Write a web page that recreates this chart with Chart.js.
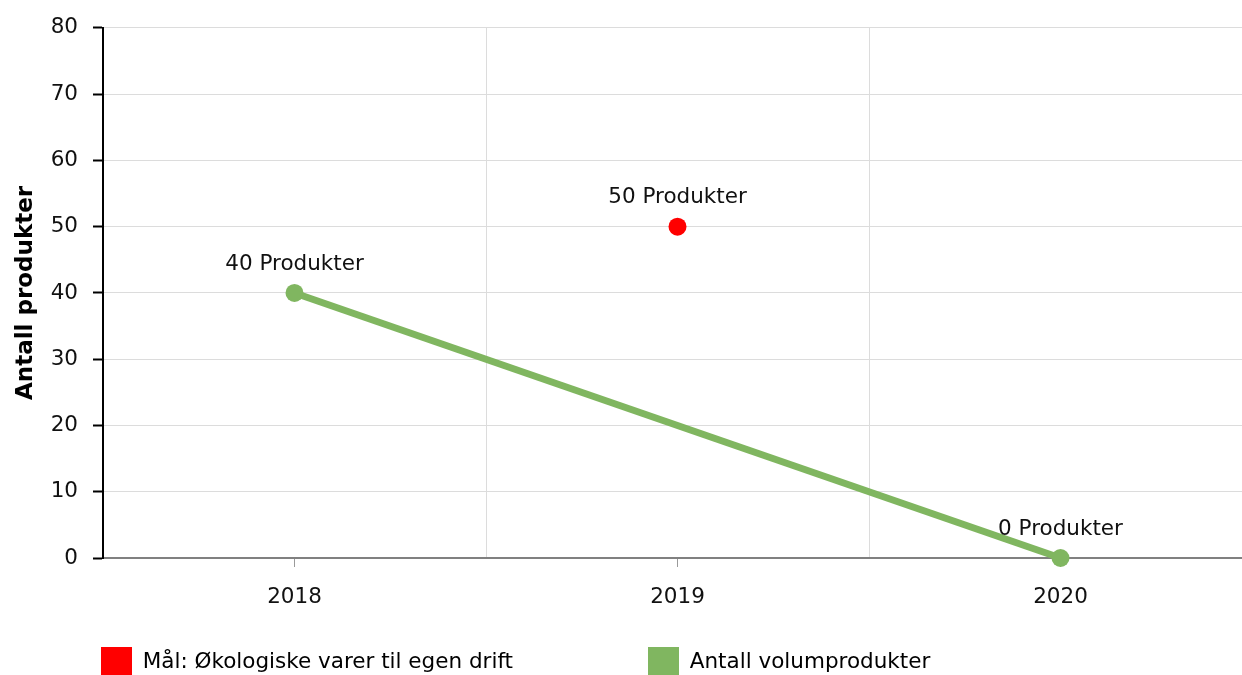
<!DOCTYPE html>
<html>
<head>
<meta charset="utf-8">
<script src="https://cdn.jsdelivr.net/npm/chart.js@4.4.1/dist/chart.umd.min.js"></script>
<style>
  html, body { margin: 0; padding: 0; overflow: hidden; background: #fff; }
  #c { display: block; }
</style>
</head>
<body>
<canvas id="c" width="1252" height="675"></canvas>
<script>
const categories = ['2018', '2019', '2020'];
const goalName = 'Mål: Økologiske varer til egen drift';
const volumeName = 'Antall volumprodukter';
const goalValues = [null, 50, null];
const volumeValues = [40, null, 0];
const yMin = 0, yMax = 80, yStep = 10;
const yTitle = 'Antall produkter';
const labelSuffix = ' Produkter';

const FONT = 'DejaVu Sans';
const FS = 21.5;
const GREEN = '#80b660';
const RED = '#ff0000';
const LEGEND_PAD = 135;

const dataLabels = {
  id: 'dataLabels',
  afterDatasetsDraw(chart) {
    const ctx = chart.ctx;
    ctx.save();
    ctx.font = FS + 'px "' + FONT + '"';
    ctx.fillStyle = '#111';
    ctx.textAlign = 'center';
    ctx.textBaseline = 'middle';
    chart.data.datasets.forEach((ds, i) => {
      const meta = chart.getDatasetMeta(i);
      meta.data.forEach((el, j) => {
        const v = ds.data[j];
        if (v === null || v === undefined) return;
        ctx.fillText(v + labelSuffix, el.x, el.y - 29);
      });
    });
    ctx.restore();
  }
};

const legendPlace = {
  id: 'legendPlace',
  afterLayout(chart) {
    const lg = chart.legend;
    if (!lg) return;
    lg.left = 101 - LEGEND_PAD;
    lg.top = 647 - LEGEND_PAD;
    lg.right = chart.width;
  }
};

new Chart(document.getElementById('c'), {
  type: 'line',
  data: {
    labels: categories,
    datasets: [
      {
        label: goalName,
        data: goalValues,
        showLine: false,
        backgroundColor: RED,
        borderColor: RED,
        pointBackgroundColor: RED,
        pointBorderColor: RED,
        pointRadius: 9,
        pointBorderWidth: 0,
        clip: false
      },
      {
        label: volumeName,
        data: volumeValues,
        spanGaps: true,
        borderColor: GREEN,
        backgroundColor: GREEN,
        borderWidth: 7,
        pointBackgroundColor: GREEN,
        pointBorderColor: GREEN,
        pointRadius: 9,
        pointBorderWidth: 0,
        tension: 0,
        clip: false
      }
    ]
  },
  options: {
    responsive: false,
    animation: false,
    layout: { autoPadding: false, padding: { top: 24, left: 0, right: 0, bottom: 0 } },
    plugins: {
      tooltip: { enabled: false },
      legend: {
        position: 'bottom',
        align: 'start',
        maxHeight: 50,
        labels: {
          font: { family: FONT, size: FS },
          color: '#111',
          boxWidth: 31,
          boxHeight: 31,
          padding: LEGEND_PAD,
          generateLabels(chart) {
            return chart.data.datasets.map((ds, i) => ({
              text: ds.label,
              fillStyle: ds.backgroundColor,
              strokeStyle: ds.backgroundColor,
              lineWidth: 0,
              hidden: false,
              datasetIndex: i
            }));
          }
        }
      }
    },
    scales: {
      x2: {
        type: 'category',
        position: 'bottom',
        offset: true,
        weight: 0,
        grid: { offset: false, drawOnChartArea: false, drawTicks: true, tickLength: 9, tickColor: '#9a9a9a', tickWidth: 1 },
        border: { display: true, color: '#808080', width: 2 },
        ticks: { display: false },
        afterFit(s) { s.height = 9; }
      },
      x: {
        type: 'category',
        position: 'bottom',
        offset: true,
        weight: 1,
        grid: { offset: true, drawTicks: false, color: '#dcdcdc', lineWidth: 1 },
        border: { display: false },
        ticks: { font: { family: FONT, size: FS }, color: '#111', padding: 18 },
        afterFit(s) { s.height = 58; }
      },
      y: {
        min: yMin,
        max: yMax,
        position: 'left',
        grid: { color: '#dcdcdc', lineWidth: 1, tickLength: 10, tickColor: '#000', tickWidth: 2 },
        border: { display: true, color: '#000', width: 2 },
        ticks: { stepSize: yStep, font: { family: FONT, size: FS }, color: '#111', padding: 15 },
        title: { display: true, text: yTitle, font: { family: FONT, size: 23, weight: 'bold' }, color: '#000', padding: { top: 12, bottom: 0 } },
        afterFit(s) { s.width = 103; }
      }
    }
  },
  plugins: [dataLabels, legendPlace]
});
</script>
</body>
</html>
